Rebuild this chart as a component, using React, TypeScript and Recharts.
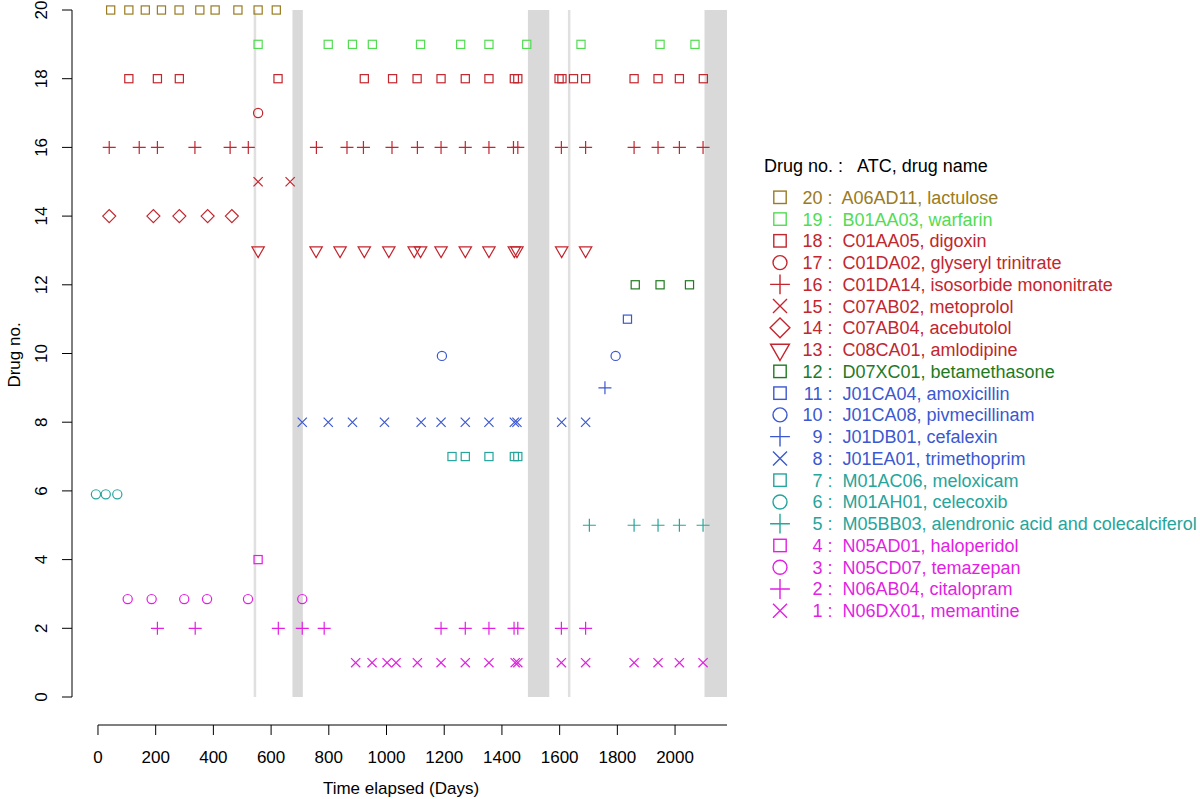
import React from 'react';
import { ScatterChart, Scatter, XAxis, YAxis, ReferenceArea, ReferenceLine } from 'recharts';

// ---------- data ----------
const drugNos = [20, 19, 18, 17, 16, 15, 14, 13, 12, 11, 10, 9, 8, 7, 6, 5, 4, 3, 2, 1];
const atcCodes = ['A06AD11', 'B01AA03', 'C01AA05', 'C01DA02', 'C01DA14', 'C07AB02', 'C07AB04', 'C08CA01', 'D07XC01', 'J01CA04', 'J01CA08', 'J01DB01', 'J01EA01', 'M01AC06', 'M01AH01', 'M05BB03', 'N05AD01', 'N05CD07', 'N06AB04', 'N06DX01'];
const drugNames = ['lactulose', 'warfarin', 'digoxin', 'glyseryl trinitrate', 'isosorbide mononitrate', 'metoprolol', 'acebutolol', 'amlodipine', 'betamethasone', 'amoxicillin', 'pivmecillinam', 'cefalexin', 'trimethoprim', 'meloxicam', 'celecoxib', 'alendronic acid and colecalciferol', 'haloperidol', 'temazepan', 'citalopram', 'memantine'];
// row position on the y scale (a few rows are slightly offset in the original)
const rowValues = [20, 19, 18, 17, 16, 15, 14, 13, 12, 11, 9.93, 9, 8, 7, 5.9, 5, 4, 2.85, 2, 1];

const days20 = [44, 107, 164, 220, 281, 353, 406, 485, 555, 618];
const days19 = [555, 798, 882, 951, 1118, 1257, 1355, 1486, 1674, 1948, 2069];
const days18 = [107, 206, 282, 624, 923, 1021, 1106, 1189, 1273, 1355, 1443, 1455, 1598, 1608, 1648, 1690, 1858, 1941, 2015, 2098];
const days17 = [555];
const days16 = [39, 143, 206, 336, 458, 521, 757, 863, 920, 1019, 1107, 1189, 1273, 1355, 1440, 1455, 1606, 1690, 1858, 1941, 2015, 2097];
const days15 = [555, 666];
const days14 = [39, 192, 282, 380, 464];
const days13 = [555, 756, 839, 923, 1008, 1096, 1118, 1189, 1273, 1355, 1443, 1452, 1607, 1690];
const days12 = [1862, 1948, 2050];
const days11 = [1835];
const days10 = [1192, 1794];
const days9 = [1757];
const days8 = [708, 798, 882, 993, 1120, 1189, 1273, 1355, 1443, 1452, 1607, 1690];
const days7 = [1227, 1273, 1355, 1443, 1455];
const days6 = [-7, 27, 67];
const days5 = [1703, 1858, 1941, 2015, 2097];
const days4 = [555];
const days3 = [103, 186, 299, 378, 520, 708];
const days2 = [206, 337, 625, 708, 784, 1189, 1273, 1355, 1442, 1455, 1606, 1690];
const days1 = [893, 950, 1002, 1033, 1107, 1189, 1273, 1355, 1446, 1455, 1606, 1690, 1858, 1941, 2015, 2097];
const daysByDrug = [days20, days19, days18, days17, days16, days15, days14, days13, days12, days11, days10, days9, days8, days7, days6, days5, days4, days3, days2, days1];

const bandStarts = [674, 1490, 2102];
const bandEnds = [710, 1564, 2180];
const eventDays = [544, 1633];

const xTicks = [0, 200, 400, 600, 800, 1000, 1200, 1400, 1600, 1800, 2000];
const yTicks = [0, 2, 4, 6, 8, 10, 12, 14, 16, 18, 20];

// ---------- styles ----------
const OLIVE = '#9a7b22';
const LGREEN = '#52dc52';
const RED = '#c2262e';
const DGREEN = '#1f7a1f';
const BLUE = '#3b58d0';
const TEAL = '#25a59c';
const MAGENTA = '#e21fe2';
const drugColors = [OLIVE, LGREEN, RED, RED, RED, RED, RED, RED, DGREEN, BLUE, BLUE, BLUE, BLUE, TEAL, TEAL, TEAL, MAGENTA, MAGENTA, MAGENTA, MAGENTA];
const drugSymbols = ['square', 'square', 'square', 'circle', 'plus', 'cross', 'diamond', 'triangle', 'square', 'square', 'circle', 'plus', 'cross', 'square', 'circle', 'plus', 'square', 'circle', 'plus', 'cross'];

const FONT = '"Liberation Sans", Arial, Helvetica, sans-serif';

function Marker({ cx, cy, kind, color, r, sw }: { cx: number; cy: number; kind: string; color: string; r: number; sw: number }) {
  if (cx == null || cy == null) return null;
  const common = { fill: 'none', stroke: color, strokeWidth: sw };
  switch (kind) {
    case 'square': {
      const h = 0.886 * r;
      return <rect x={cx - h} y={cy - h} width={2 * h} height={2 * h} {...common} />;
    }
    case 'circle':
      return <circle cx={cx} cy={cy} r={r} {...common} />;
    case 'plus': {
      const a = 1.414 * r;
      return <path d={`M${cx - a},${cy}H${cx + a}M${cx},${cy - a}V${cy + a}`} {...common} />;
    }
    case 'cross': {
      const a = r;
      return <path d={`M${cx - a},${cy - a}L${cx + a},${cy + a}M${cx - a},${cy + a}L${cx + a},${cy - a}`} {...common} />;
    }
    case 'diamond': {
      const a = 1.414 * r;
      return <path d={`M${cx - a},${cy}L${cx},${cy - a}L${cx + a},${cy}L${cx},${cy + a}Z`} {...common} />;
    }
    case 'triangle': {
      const rr = 1.555 * r;
      const xc = 1.3468 * r;
      const yc = 0.7776 * r;
      return <path d={`M${cx},${cy + rr}L${cx + xc},${cy - yc}L${cx - xc},${cy - yc}Z`} {...common} />;
    }
    default:
      return null;
  }
}

const XTick = (props: any) => {
  const { x, y, payload } = props;
  return (
    <text x={x} y={y} dy={26} textAnchor="middle" fontSize={17} fill="#000" fontFamily={FONT}>
      {payload.value}
    </text>
  );
};

const YTick = (props: any) => {
  const { y, payload } = props;
  const bx = 47;
  return (
    <text x={bx} y={y} transform={`rotate(-90 ${bx} ${y})`} textAnchor="middle" fontSize={17} fill="#000" fontFamily={FONT}>
      {payload.value}
    </text>
  );
};

const X_MIN = -90;
const X_MAX = 2180;
const Y_MIN = -0.815;
const Y_MAX = 20;

export default function App() {
  const series = drugNos.map((no, i) => ({
    no,
    color: drugColors[i],
    kind: drugSymbols[i],
    data: daysByDrug[i].map((d) => ({ day: d, row: rowValues[i] })),
  }));

  const legendTop = 140;
  const rowStart = 63.8;
  const rowStep = 21.76;

  return (
    <div style={{ position: 'absolute', left: 0, top: 0, width: 1200, height: 799, background: '#fff' }}>
      <ScatterChart width={1200} height={799} margin={{ top: 10, right: 473, bottom: 0, left: 32 }} style={{ overflow: 'visible' }}>
        <XAxis
          type="number"
          dataKey="day"
          domain={[X_MIN, X_MAX]}
          ticks={xTicks}
          axisLine={false}
          tickLine={{ stroke: '#000', strokeWidth: 1 }}
          tickSize={10}
          height={74}
          tick={<XTick />}
          interval={0}
        />
        <YAxis
          type="number"
          dataKey="row"
          domain={[Y_MIN, Y_MAX]}
          ticks={yTicks}
          axisLine={false}
          tickLine={{ stroke: '#000', strokeWidth: 1 }}
          tickSize={10}
          width={40}
          tick={<YTick />}
          interval={0}
        />
        {bandStarts.map((s, i) => (
          <ReferenceArea key={'b' + i} x1={s} x2={bandEnds[i]} y1={0} y2={20} fill="#d9d9d9" fillOpacity={1} stroke="none" ifOverflow="visible" />
        ))}
        {eventDays.map((d, i) => (
          <ReferenceLine key={'e' + i} segment={[{ x: d, y: 0 }, { x: d, y: 20 }]} stroke="#e0e0e0" strokeWidth={2.5} ifOverflow="visible" />
        ))}
        <ReferenceLine segment={[{ x: X_MIN, y: 0 }, { x: X_MIN, y: 20 }]} stroke="#000" strokeWidth={1} ifOverflow="visible" />
        <ReferenceLine segment={[{ x: 0, y: Y_MIN }, { x: X_MAX, y: Y_MIN }]} stroke="#000" strokeWidth={1} ifOverflow="visible" />
        {series.map((s) => (
          <Scatter
            key={s.no}
            data={s.data}
            isAnimationActive={false}
            shape={(p: any) => <Marker cx={p.cx} cy={p.cy} kind={s.kind} color={s.color} r={4.6} sw={1.2} />}
          />
        ))}
      </ScatterChart>
      <svg
        width={1200}
        height={799}
        style={{ position: 'absolute', left: 0, top: 0, pointerEvents: 'none' }}
        fontFamily={FONT}
      >
        <text x={401} y={794} textAnchor="middle" fontSize={17} fill="#000">
          Time elapsed (Days)
        </text>
        <text x={20} y={355} transform="rotate(-90 20 355)" textAnchor="middle" fontSize={17} fill="#000">
          Drug no.
        </text>
        <text x={764} y={legendTop + 31.5} fontSize={18} fill="#000" style={{ whiteSpace: 'pre' }}>
          {'Drug no. :   ATC, drug name'}
        </text>
        {drugNos.map((no, i) => {
          const base = legendTop + rowStart + i * rowStep;
          const cy = base - 6.5;
          return (
            <g key={'l' + no}>
              <Marker cx={780} cy={cy} kind={drugSymbols[i]} color={drugColors[i]} r={7} sw={1.4} />
              <text x={822.5} y={base} textAnchor="end" fontSize={18} fill={drugColors[i]}>
                {no}
              </text>
              <text x={822.5} y={base} fontSize={18} fill={drugColors[i]} style={{ whiteSpace: 'pre' }}>
                {` :  ${atcCodes[i]}, ${drugNames[i]}`}
              </text>
            </g>
          );
        })}
      </svg>
    </div>
  );
}
